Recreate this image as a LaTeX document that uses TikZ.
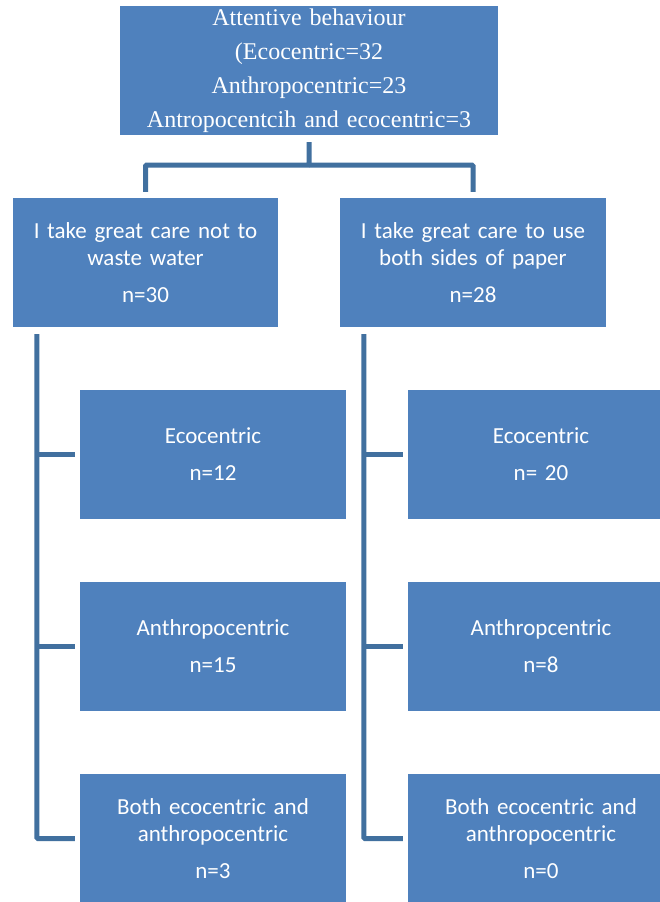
\documentclass[tikz,border=0pt]{standalone}
\usepackage{fontspec}
\setmainfont{Liberation Serif}
\newfontfamily\calfont{Carlito}
\usepackage{tikz}
\usepackage{xcolor}
\definecolor{boxblue}{HTML}{4F81BD}
\definecolor{linkblue}{HTML}{41709F}

\begin{document}
\begin{tikzpicture}[x=1pt,y=1pt,
  box/.style={fill=boxblue,draw=none,text=white,inner sep=0pt,align=center,
    minimum width=266pt,minimum height=129pt,text width=258pt,
    font=\calfont\fontsize{23}{27}\selectfont},
  headbox/.style={box,minimum width=378pt,text width=370pt,
    font=\rmfamily\fontsize{24}{34}\selectfont},
  link/.style={draw=linkblue,line width=5pt,rounded corners=1pt}]
\clip (0,0) rectangle (660,-902);
\fill[white] (0,0) rectangle (660,-902);
% top box
\node[headbox] (top) at (309,-70.5) {Attentive behaviour\\(Ecocentric=32\\Anthropocentric=23\\Antropocentcih and ecocentric=3};
% first level
\node[box,minimum width=265pt] (wat) at (145.5,-262.5) {I take great care not to\\waste water\\[10pt]n=30};
\node[box] (pap) at (473,-262.5) {I take great care to use\\both sides of paper\\[10pt]n=28};
% second level, water
\node[box] (weco) at (213,-454.5) {Ecocentric\\[10pt]n=12};
\node[box] (want) at (213,-646.5) {Anthropocentric\\[10pt]n=15};
\node[box] (wboth) at (213,-838.5) {Both ecocentric and\\anthropocentric\\[10pt]n=3};
% second level, paper
\node[box] (peco) at (541,-454.5) {Ecocentric\\[10pt]n= 20};
\node[box] (pant) at (541,-646.5) {Anthropcentric\\[10pt]n=8};
\node[box] (pboth) at (541,-838.5) {Both ecocentric and\\anthropocentric\\[10pt]n=0};
% connectors
\draw[link] ([yshift=-7pt]top.south) -- ++(0,-23) -| ([yshift=6pt]wat.north);
\draw[link] ([yshift=-30pt]top.south) -| ([yshift=6pt]pap.north);
\draw[link] ([xshift=24pt,yshift=-7pt]wat.south west) |- ([xshift=-5pt]wboth.west);
\draw[link] ([xshift=-5pt]weco.west) -- ++(-40,0);
\draw[link] ([xshift=-5pt]want.west) -- ++(-40,0);
\draw[link] ([xshift=24pt,yshift=-7pt]pap.south west) |- ([xshift=-5pt]pboth.west);
\draw[link] ([xshift=-5pt]peco.west) -- ++(-40,0);
\draw[link] ([xshift=-5pt]pant.west) -- ++(-40,0);
\end{tikzpicture}
\end{document}
